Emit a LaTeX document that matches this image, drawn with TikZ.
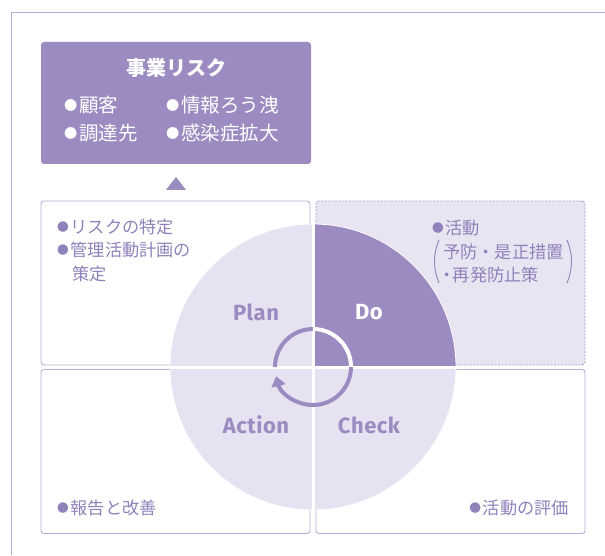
\documentclass[tikz,border=0pt]{standalone}
\usepackage{fontspec}
\setmainfont{Noto Sans CJK JP}
\newfontfamily\jp{Noto Sans CJK JP}
\newfontfamily\lat{Fira Sans}
\usetikzlibrary{arrows.meta}
\definecolor{pur}{HTML}{9B8BC1}
\definecolor{lav}{HTML}{E6E2F1}
\definecolor{lavbox}{HTML}{E8E4F2}
\definecolor{bord}{HTML}{B7ADD5}
\definecolor{dashc}{HTML}{A99DCB}
\definecolor{txt}{HTML}{8F82BA}
\newcommand\mybul{\raisebox{0.11em}{\scalebox{0.68}{●}}\kern0.1em}
\begin{document}
\begin{tikzpicture}[x=1pt,y=1pt,
  box/.style={draw=bord, line width=0.9pt, rounded corners=3pt, inner sep=0pt,
    minimum width=269pt, minimum height=164pt},
  dobox/.style={box, draw=dashc, fill=lavbox, dash pattern=on 2pt off 1.5pt},
  topbox/.style={fill=pur, rounded corners=3pt, inner sep=0pt,
    minimum width=270pt, minimum height=122pt},
  wt/.style={font=\jp\fontsize{19.5}{20}\selectfont, text=white, inner sep=0pt, anchor=west},
  jt/.style={font=\jp\fontsize{17.2}{17}\selectfont, text=txt, inner sep=0pt, anchor=west},
  pdca/.style={font=\lat\bfseries\fontsize{22}{22}\selectfont, text=pur, inner sep=0pt},
  ring/.style={line width=4pt},
]
\useasboundingbox (0,0) rectangle (605,555);
\fill[white] (0,0) rectangle (605,555);
% outer frame (top and left)
\draw[bord, line width=0.9pt] (11,0) -- (11,543) -- (605,543);

% top risk box
\node[topbox] (risk) at (176,452) {};
\node[font=\jp\bfseries\fontsize{20}{20}\selectfont, text=white, inner sep=0pt] (title) at (176,487) {事業リスク};
\node[wt] (r1) at (64,450) {\mybul 顧客};
\node[wt] (r2) at (166,450) {\mybul 情報ろう洩};
\node[wt] (r3) at (64,422) {\mybul 調達先};
\node[wt] (r4) at (166,422) {\mybul 感染症拡大};
\fill[pur] (166,365) -- (186,365) -- (176,378) -- cycle;

% quadrant boxes
\node[box] (planbox) at (175.5,272) {};
\node[dobox] (dobx) at (450.5,272) {};
\node[box] (actbox) at (175.5,103.5) {};
\node[box] (chkbox) at (450.5,103.5) {};

% big circle
\coordinate (c) at (313,188);
\fill[lav] (c) circle[radius=143];
\fill[pur] (c) -- ++(143,0) arc[start angle=0, end angle=90, radius=143] -- cycle;
\draw[white, line width=0.8pt] (c) circle[radius=143];
\draw[white, line width=3pt] (313,44) -- (313,332);
\draw[white, line width=3pt] (169,188) -- (457,188);

% small cycle ring
\draw[pur, ring] (275,188) arc[start angle=180, end angle=90, radius=38];
\draw[white, ring] (351,188) arc[start angle=0, end angle=90, radius=38];
\draw[pur, ring, -{Triangle[length=10pt,width=14pt]}] (351,188) arc[start angle=0, end angle=-166, radius=38];

% PDCA labels
\node[pdca] (plan) at (256,243) {P\kern0.5pt l\kern0.5pt a\kern0.5pt n};
\node[pdca, text=white] (do) at (369,243) {D\kern0.5pt o};
\node[pdca] (action) at (256,130) {A\kern0.5pt c\kern0.5pt t\kern0.5pt i\kern0.5pt o\kern0.5pt n};
\node[pdca] (check) at (369,130) {C\kern0.5pt h\kern0.5pt e\kern0.5pt c\kern0.5pt k};

% Plan texts
\node[jt] (p1) at (57,328) {\mybul リスクの特定};
\node[jt] (p2) at (57,305) {\mybul 管理活動計画の};
\node[jt] (p3) at (72,281) {策定};

% Do texts
\node[jt] (d1) at (432,327) {\mybul 活動};
\node[jt] (d2) at (443,303) {予防・是正措置};
\node[jt] (d3) at (438,280) {・\kern-2.5pt 再発防止策};
\draw[txt, line width=0.9pt] (439,315) .. controls (433,301) and (433,286) .. (439,272);
\draw[txt, line width=0.9pt] (567,315) .. controls (573,301) and (573,286) .. (567,272);

% Action / Check texts
\node[jt] (a1) at (57,47) {\mybul 報告と改善};
\node[jt, anchor=east] (c1) at (569,47) {\mybul 活動の評価};
\end{tikzpicture}
\end{document}
